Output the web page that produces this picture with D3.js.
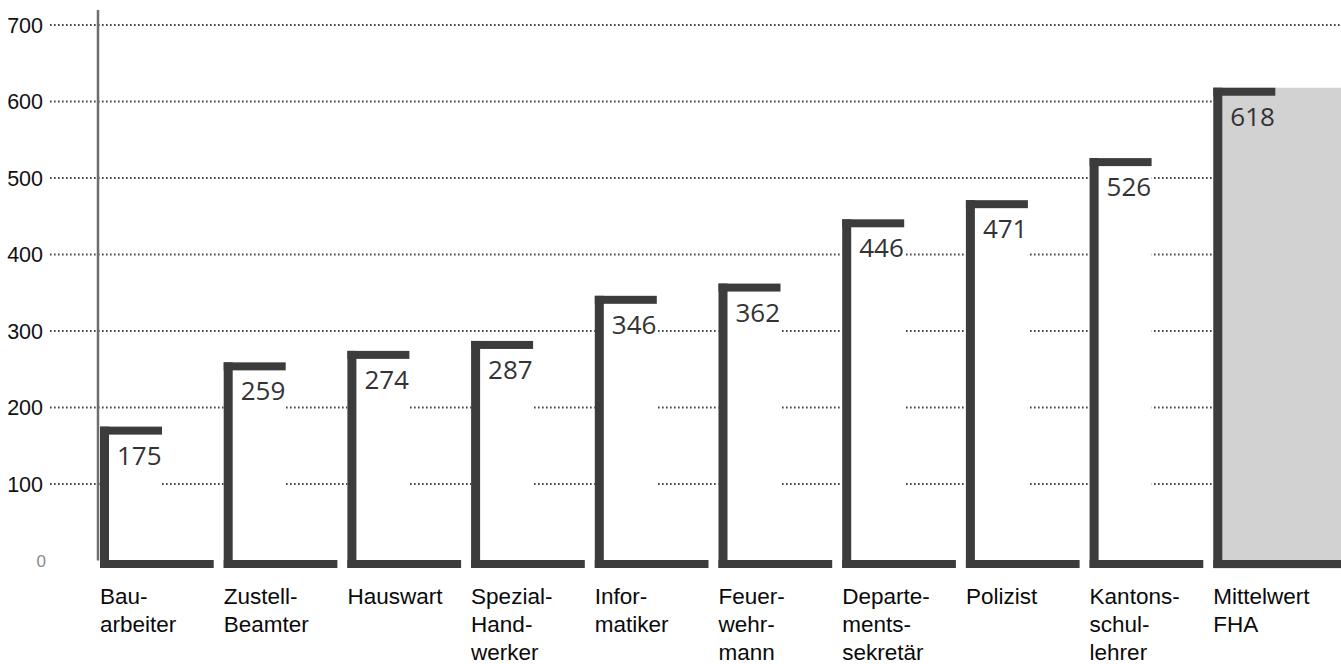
<!DOCTYPE html>
<html>
<head>
<meta charset="utf-8">
<script src="https://cdn.jsdelivr.net/npm/d3@7"></script>
<style>
  html, body { margin: 0; padding: 0; background: #fff; }
  svg { display: block; }
</style>
</head>
<body>
<svg id="chart" width="1341" height="664"></svg>
<script>
// Occupations and their values
const categories = ["Bauarbeiter", "Zustell-Beamter", "Hauswart", "Spezial-Handwerker",
  "Informatiker", "Feuerwehrmann", "Departementssekretär", "Polizist",
  "Kantonsschullehrer", "Mittelwert FHA"];
const labelLines = [
  ["Bau-", "arbeiter"],
  ["Zustell-", "Beamter"],
  ["Hauswart"],
  ["Spezial-", "Hand-", "werker"],
  ["Infor-", "matiker"],
  ["Feuer-", "wehr-", "mann"],
  ["Departe-", "ments-", "sekretär"],
  ["Polizist"],
  ["Kantons-", "schul-", "lehrer"],
  ["Mittelwert", "FHA"]
];
const values = [175, 259, 274, 287, 346, 362, 446, 471, 526, 618];
const yTicks = [0, 100, 200, 300, 400, 500, 600, 700];
const highlighted = "Mittelwert FHA";

const W = 1341, H = 664;
const svg = d3.select("#chart");

const y = d3.scaleLinear().domain([0, 700]).range([560.5, 25]);
const x = d3.scaleBand().domain(categories).range([100, 1337]).paddingInner(0).paddingOuter(0).align(0);

const ink = "#3c3c3c";
const strokeW = 9;      // vertical bar stroke
const capH = 8;         // top cap thickness
const capW = 62;        // top cap length
const baseH = 8;        // bottom line thickness
const gap = 10;         // gap between neighbouring bottom lines
const y0 = y(0);

// dotted gridlines
svg.append("g").selectAll("line")
  .data(yTicks.filter(d => d > 0))
  .join("line")
  .attr("x1", 50).attr("x2", W)
  .attr("y1", d => y(d)).attr("y2", d => y(d))
  .attr("stroke", "#444")
  .attr("stroke-width", 2)
  .attr("stroke-dasharray", "1.6,2.4");

// y tick labels
svg.append("g").selectAll("text")
  .data(yTicks)
  .join("text")
  .attr("x", d => d === 0 ? 46 : 43)
  .attr("y", d => y(d))
  .attr("dy", "0.36em")
  .attr("text-anchor", "end")
  .attr("font-family", "'Liberation Sans', Arial, sans-serif")
  .attr("font-size", d => d === 0 ? 17 : 21.5)
  .attr("fill", d => d === 0 ? "#8a8a8a" : "#111")
  .text(d => d);

// vertical axis line
svg.append("line")
  .attr("x1", 98).attr("x2", 98)
  .attr("y1", 10).attr("y2", y0)
  .attr("stroke", "#6e6e6e")
  .attr("stroke-width", 2.5);

const data = categories.map((c, i) => ({ cat: c, value: values[i], lines: labelLines[i] }));
const bars = svg.append("g").selectAll("g").data(data).join("g");

// bar interiors: white boxes that mask the gridlines, grey fill for the average
bars.append("rect")
  .attr("x", d => x(d.cat))
  .attr("y", d => y(d.value))
  .attr("width", d => d.cat === highlighted ? W - x(d.cat) : capW)
  .attr("height", d => y0 - y(d.value) + baseH)
  .attr("fill", d => d.cat === highlighted ? "#d2d2d2" : "#fff");

// bottom lines
bars.append("rect")
  .attr("x", d => x(d.cat))
  .attr("y", y0 - 0.5)
  .attr("width", d => d.cat === highlighted ? W - x(d.cat) : x.step() - gap)
  .attr("height", baseH)
  .attr("fill", ink);

// vertical strokes
bars.append("rect")
  .attr("x", d => x(d.cat))
  .attr("y", d => y(d.value))
  .attr("width", strokeW)
  .attr("height", d => y0 - y(d.value) + baseH - 0.5)
  .attr("fill", ink);

// top caps
bars.append("rect")
  .attr("x", d => x(d.cat))
  .attr("y", d => y(d.value))
  .attr("width", capW)
  .attr("height", capH)
  .attr("fill", ink);

// value labels
bars.append("text")
  .attr("x", d => x(d.cat) + strokeW + 8)
  .attr("y", d => y(d.value) + 38)
  .attr("font-family", "'Open Sans', 'Noto Sans', sans-serif")
  .attr("font-size", 26)
  .attr("fill", "#333")
  .text(d => d.value);

// category labels
bars.append("text")
  .attr("font-family", "'Liberation Sans', Arial, sans-serif")
  .attr("font-size", 22.5)
  .attr("fill", "#0a0a0a")
  .selectAll("tspan")
  .data(d => d.lines.map((l, i) => ({ l, i, cat: d.cat })))
  .join("tspan")
  .attr("x", d => x(d.cat))
  .attr("y", d => 604 + d.i * 28)
  .text(d => d.l);
</script>
</body>
</html>
